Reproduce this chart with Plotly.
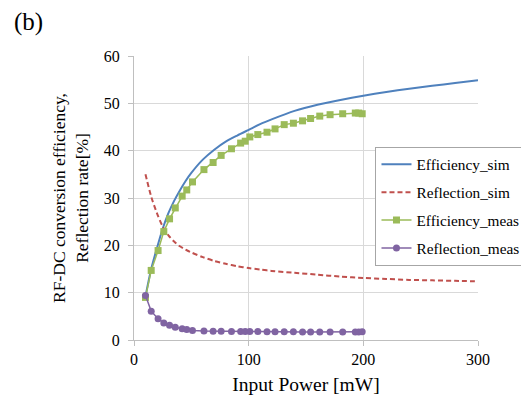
import plotly.graph_objects as go

# Simulated curves
sim_power = [10, 15, 20, 25, 30, 35, 40, 45, 50, 60, 70, 80, 90, 100, 110, 120, 140, 160, 180, 200,
             220, 240, 260, 280, 300]
eff_sim = [9.2, 15.0, 19.4, 23.5, 26.8, 29.4, 31.6, 33.6, 35.3, 38.1, 40.2, 41.9, 43.2, 44.4, 45.6, 46.6,
           48.4, 49.7, 50.7, 51.6, 52.4, 53.1, 53.7, 54.3, 54.9]
refl_sim = [35.0, 30.3, 26.8, 24.0, 22.1, 20.8, 19.8, 19.1, 18.5, 17.5, 16.7, 16.1, 15.6, 15.2, 14.9, 14.6,
            14.2, 13.8, 13.4, 13.1, 12.9, 12.7, 12.6, 12.5, 12.4]

# Measured data
meas_power = [10, 15, 21, 26, 31, 36, 42, 46, 51, 61, 69, 76, 85, 93, 97, 101, 108, 116, 123,
              131, 139, 147, 154, 162, 171, 182, 193, 196, 199]
eff_meas = [9.0, 14.7, 18.9, 22.9, 25.6, 27.9, 30.4, 31.7, 33.4, 36.0, 37.5, 39.0, 40.4, 41.6, 42.0,
            42.9, 43.4, 43.9, 44.6, 45.5, 45.8, 46.3, 46.8, 47.3, 47.6, 47.8, 47.95, 47.95, 47.8]
refl_meas = [9.4, 6.1, 4.5, 3.6, 3.1, 2.7, 2.4, 2.2, 2.0, 1.9, 1.85, 1.85, 1.8, 1.8, 1.8, 1.8, 1.8,
             1.75, 1.75, 1.75, 1.75, 1.7, 1.7, 1.7, 1.7, 1.7, 1.7, 1.7, 1.75]

x_ticks = [0, 100, 200, 300]
y_ticks = [0, 10, 20, 30, 40, 50, 60]

FONT = "Liberation Serif"
GRID = "#d9d9d9"
AXIS = "#bfbfbf"

fig = go.Figure()
fig.add_trace(go.Scatter(x=sim_power, y=eff_sim, mode="lines", name="Efficiency_sim", legendgroup="a",
                         line=dict(color="#4F81BD", width=2, shape="spline", smoothing=0.8)))
fig.add_trace(go.Scatter(x=sim_power, y=refl_sim, mode="lines", name="Reflection_sim", legendgroup="b",
                         line=dict(color="#C0504D", width=2, dash="5px,3px", shape="spline", smoothing=0.8)))
fig.add_trace(go.Scatter(x=meas_power, y=eff_meas, mode="lines+markers", name="Efficiency_meas",
                         legendgroup="c",
                         line=dict(color="#9BBB59", width=1.5),
                         marker=dict(symbol="square", size=7, color="#9BBB59")))
fig.add_trace(go.Scatter(x=meas_power, y=refl_meas, mode="lines+markers", name="Reflection_meas",
                         legendgroup="d",
                         line=dict(color="#8064A2", width=1.5),
                         marker=dict(symbol="circle", size=7, color="#8064A2")))

# page body has an 8px margin: size/margins compensate so the plot area lands at x 134-478, y 56-340
fig.update_layout(
    width=521, height=388,
    margin=dict(l=126, r=51, t=48, b=56, autoexpand=False),
    paper_bgcolor="white", plot_bgcolor="white",
    font=dict(family=FONT, size=16, color="#000000"),
    showlegend=True,
    legend=dict(x=0.702, y=0.68, xanchor="left", yanchor="top",
                bgcolor="white", bordercolor="#a6a6a6", borderwidth=1,
                font=dict(family=FONT, size=15.3), tracegroupgap=5,
                itemwidth=30),
)
fig.add_annotation(text="(b)", xref="paper", yref="paper", x=-0.3547, y=1.12,
                   xanchor="left", yanchor="middle", showarrow=False,
                   font=dict(family=FONT, size=25))

fig.update_xaxes(range=[0, 300], tickvals=x_ticks, showgrid=True, gridcolor=GRID, gridwidth=1,
                 showline=True, linecolor=AXIS, linewidth=1, zeroline=False, automargin=False,
                 ticks="outside", ticklen=5, tickcolor=AXIS,
                 tickfont=dict(family=FONT, size=16),
                 title=dict(text="Input Power [mW]", font=dict(family=FONT, size=19.5), standoff=10))
fig.update_yaxes(range=[0, 60], tickvals=y_ticks, showgrid=True, gridcolor=GRID, gridwidth=1,
                 showline=True, linecolor=AXIS, linewidth=1, zeroline=False, automargin=False,
                 ticks="outside", ticklen=5, tickcolor=AXIS, ticklabelstandoff=5,
                 tickfont=dict(family=FONT, size=16),
                 title=dict(text="RF-DC conversion efficiency,<br>Reflection rate[%]",
                            font=dict(family=FONT, size=17.5), standoff=10))

fig.write_html("out.html")
